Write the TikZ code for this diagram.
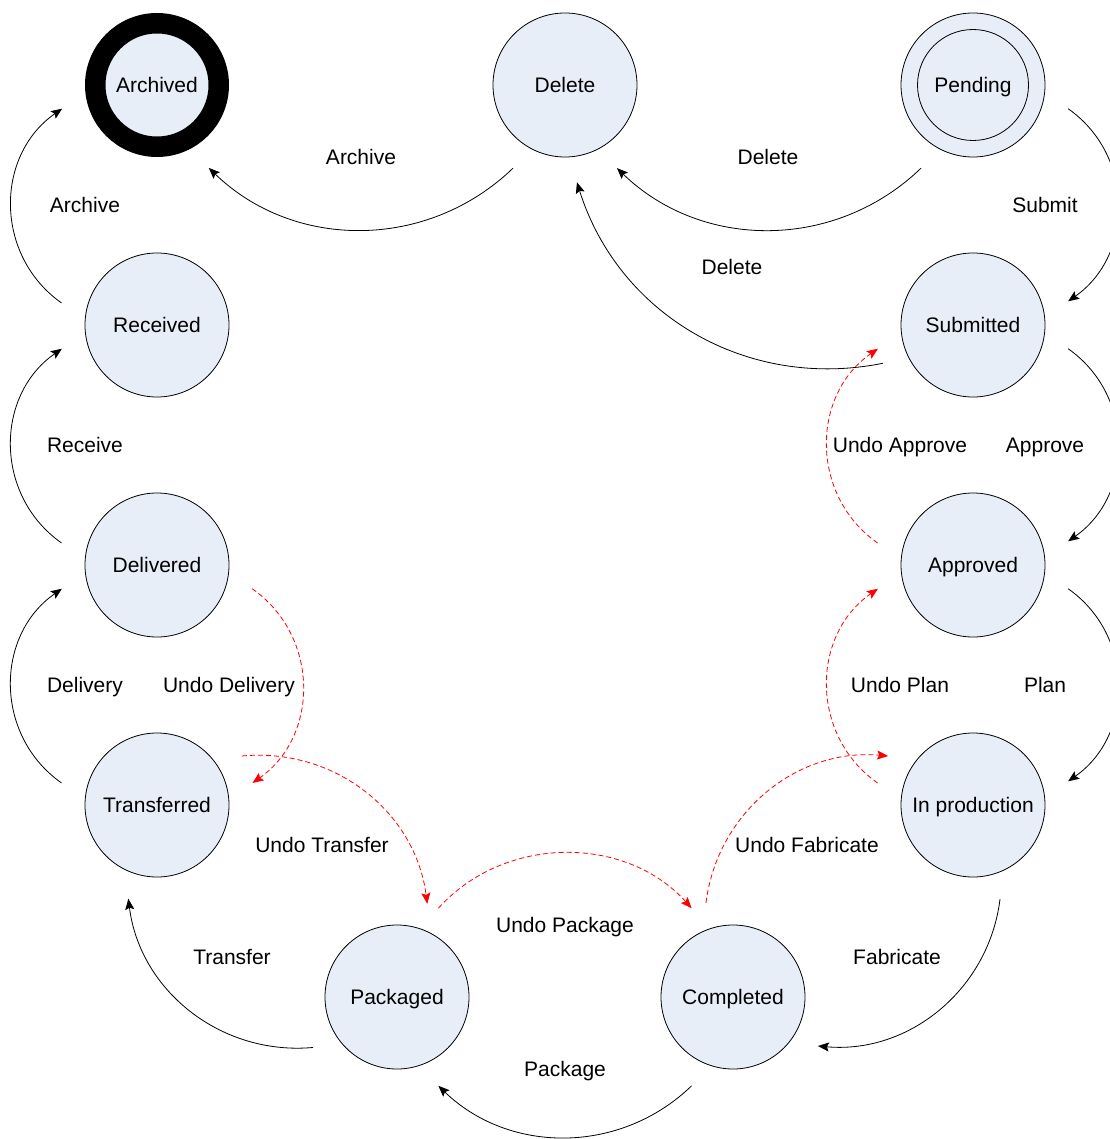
\documentclass[tikz,border=0pt]{standalone}
\usepackage{fontspec}
\setmainfont{Liberation Sans}
\usetikzlibrary{arrows.meta}
\definecolor{statefill}{RGB}{232,238,248}
\definecolor{undored}{RGB}{255,0,0}
\begin{document}
\begin{tikzpicture}[x=1pt, y=-1pt,
  txt/.style={font=\fontsize{21}{25}\selectfont, text height=15pt, text depth=0pt, inner sep=0pt},
  state/.style={txt, circle, draw, line width=0.8pt, fill=statefill, minimum size=144pt, outer sep=26pt},
  finalstate/.style={txt, circle, draw, line width=20.5pt, fill=statefill, minimum size=123.5pt, outer sep=36pt},
  lbl/.style={txt},
  flow/.style={line width=0.8pt, -{Stealth[length=11pt, width=9pt, inset=2pt]}},
  undo/.style={line width=0.8pt, undored, dash pattern=on 5pt off 3pt, -{Stealth[length=11pt, width=9pt, inset=2pt]}}
]
\useasboundingbox (0,0) rectangle (1109,1139);

% states
\node[finalstate] (Archived) at (157,85) {Archived};
\node[state] (Delete) at (565,85) {Delete};
\node[state] (Pending) at (973,85) {Pending};
\draw[line width=0.8pt] (Pending.center) circle[radius=55.5pt];
\node[state] (Received) at (157,325) {Received};
\node[state] (Submitted) at (973,325) {Submitted};
\node[state] (Delivered) at (157,565) {Delivered};
\node[state] (Approved) at (973,565) {Approved};
\node[state] (Transferred) at (157,805) {Transferred};
\node[state] (InProduction) at (973,805) {In production};
\node[state] (Packaged) at (397,997) {Packaged};
\node[state] (Completed) at (733,997) {Completed};

% forward transitions
\draw[flow] (Delete.238) to[bend left=44] (Archived.302);
\draw[flow] (Pending.238) to[bend left=44] (Delete.302);
\draw[flow] (Submitted.203) to[bend left=42] (Delete.277);
\draw[flow] (Pending.346) to[bend left=55, looseness=1.08] (Submitted.14);
\draw[flow] (Submitted.346) to[bend left=55, looseness=1.08] (Approved.14);
\draw[flow] (Approved.346) to[bend left=55, looseness=1.08] (InProduction.14);
\draw[flow] (InProduction.286) to[bend left=44] (Completed.330);
\draw[flow] (Completed.245) to[bend left=44] (Packaged.295);
\draw[flow] (Packaged.211) to[bend left=44] (Transferred.253);
\draw[flow] (Transferred.167) to[bend left=55, looseness=1.08] (Delivered.194);
\draw[flow] (Delivered.167) to[bend left=55, looseness=1.08] (Received.194);
\draw[flow] (Received.167) to[bend left=55, looseness=1.08] (Archived.194);

% undo transitions
\draw[undo] (Delivered.346) to[bend left=55, looseness=1.08] (Transferred.13);
\draw[undo] (Transferred.30) to[bend left=44] (Packaged.72);
\draw[undo] (Packaged.65) to[bend left=48] (Completed.115);
\draw[undo] (Completed.106) to[bend left=44] (InProduction.150);
\draw[undo] (InProduction.167) to[bend left=55, looseness=1.08] (Approved.194);
\draw[undo] (Approved.167) to[bend left=55, looseness=1.08] (Submitted.194);

% transition labels
\node[lbl] (lArchiveTop) at (361,157) {Archive};
\node[lbl] (lDeleteTop) at (768,157) {Delete};
\node[lbl] (lArchiveLeft) at (85,205) {Archive};
\node[lbl] (lSubmit) at (1045,205) {Submit};
\node[lbl] (lDeleteMid) at (732,267) {Delete};
\node[lbl] (lReceive) at (85,445) {Receive};
\node[lbl] (lUndoApprove) at (900,445) {Undo Approve};
\node[lbl] (lApprove) at (1045,445) {Approve};
\node[lbl] (lDelivery) at (85,685) {Delivery};
\node[lbl] (lUndoDelivery) at (229,685) {Undo Delivery};
\node[lbl] (lUndoPlan) at (900,685) {Undo Plan};
\node[lbl] (lPlan) at (1045,685) {Plan};
\node[lbl] (lUndoTransfer) at (322,845) {Undo Transfer};
\node[lbl] (lUndoFabricate) at (807,845) {Undo Fabricate};
\node[lbl] (lUndoPackage) at (565,925) {Undo Package};
\node[lbl] (lTransfer) at (232,957) {Transfer};
\node[lbl] (lFabricate) at (897,957) {Fabricate};
\node[lbl] (lPackage) at (565,1069) {Package};
\end{tikzpicture}
\end{document}
